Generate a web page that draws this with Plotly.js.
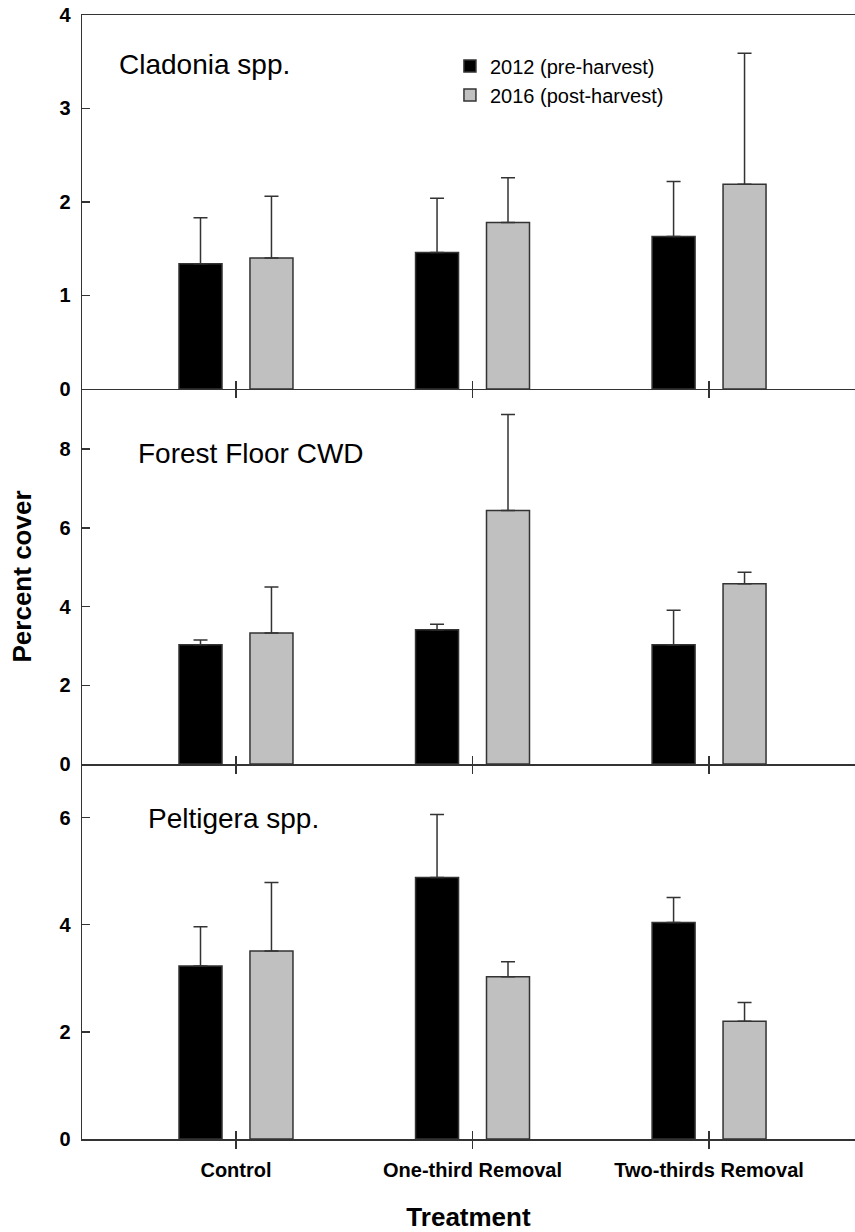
<!DOCTYPE html>
<html>
<head>
<meta charset="utf-8">
<script src="https://cdn.plot.ly/plotly-3.0.1.min.js"></script>
<style>html,body{margin:0;padding:0;background:#fff;}</style>
</head>
<body>
<div id="chart" style="width:855px;height:1232px;"></div>
<script>
// ---- data ----
const treatments = ["Control", "One-third Removal", "Two-thirds Removal"];
const seriesNames = ["2012 (pre-harvest)", "2016 (post-harvest)"];

const cladonia2012 = [1.34, 1.46, 1.63];
const cladonia2012Err = [0.49, 0.58, 0.59];
const cladonia2016 = [1.40, 1.78, 2.19];
const cladonia2016Err = [0.66, 0.48, 1.40];

const cwd2012 = [3.03, 3.41, 3.03];
const cwd2012Err = [0.12, 0.14, 0.88];
const cwd2016 = [3.33, 6.44, 4.58];
const cwd2016Err = [1.17, 2.44, 0.29];

const peltigera2012 = [3.23, 4.88, 4.04];
const peltigera2012Err = [0.73, 1.18, 0.47];
const peltigera2016 = [3.51, 3.03, 2.20];
const peltigera2016Err = [1.28, 0.28, 0.35];

const panelLabels = ["Cladonia spp.", "Forest Floor CWD", "Peltigera spp."];

// ---- styling ----
const AX = "#333333";
const FONT = "Liberation Sans, Arial, sans-serif";
const colors = ["#000000", "#c0c0c0"];
const xr = [-0.651, 2.617];

function barTrace(vals, errs, idx, xa, ya, showleg) {
  return {
    type: "bar",
    x: treatments,
    y: vals,
    name: seriesNames[idx],
    xaxis: xa, yaxis: ya,
    showlegend: showleg,
    marker: {color: colors[idx], line: {color: AX, width: 1.5}},
    error_y: {type: "data", symmetric: false, array: errs,
              arrayminus: errs.map(() => 0),
              color: AX, thickness: 1.5, width: 7},
    hoverinfo: "x+y"
  };
}

// helper traces (no data) so the overlay tick axes are drawn
function helper(xa, ya) {
  return {type: "scatter", mode: "none", x: [], y: [], xaxis: xa, yaxis: ya,
          showlegend: false, hoverinfo: "skip"};
}

const data = [
  barTrace(cladonia2012, cladonia2012Err, 0, "x", "y", true),
  barTrace(cladonia2016, cladonia2016Err, 1, "x", "y", true),
  barTrace(cwd2012, cwd2012Err, 0, "x2", "y2", false),
  barTrace(cwd2016, cwd2016Err, 1, "x2", "y2", false),
  barTrace(peltigera2012, peltigera2012Err, 0, "x3", "y3", false),
  barTrace(peltigera2016, peltigera2016Err, 1, "x3", "y3", false),
  helper("x4", "y"), helper("x5", "y2"), helper("x6", "y3")
];

function xAxis(anchor, opts) {
  return Object.assign({
    anchor: anchor, domain: [0, 1], type: "category",
    range: xr, showgrid: false, zeroline: false,
    showline: true, linecolor: AX, linewidth: 1.5,
    ticks: "outside", ticklen: 8, tickwidth: 1.5, tickcolor: AX,
    showticklabels: false, fixedrange: true
  }, opts || {});
}
function xInner(over, anchor) {
  return {
    overlaying: over, anchor: anchor, type: "linear", range: xr,
    tickmode: "array", tickvals: [0, 1, 2], showticklabels: false,
    ticks: "inside", ticklen: 8, tickwidth: 1.5, tickcolor: AX,
    showline: false, showgrid: false, zeroline: false, fixedrange: true
  };
}
function yAxis(domain, range, dtick, opts) {
  return Object.assign({
    anchor: "x", domain: domain, range: range, dtick: dtick, tick0: 0,
    showgrid: false, zeroline: false,
    showline: true, linecolor: AX, linewidth: 1.5,
    ticks: "inside", ticklen: 8, tickwidth: 1.5, tickcolor: AX,
    tickfont: {family: FONT, size: 20, color: "#000", weight: "bold"},
    ticklabelstandoff: 6,
    fixedrange: true
  }, opts || {});
}

const d1 = [0.6673, 1], d2 = [0.3336, 0.6673], d3 = [0, 0.3336];

const layout = {
  width: 855, height: 1232,
  margin: {l: 82, r: 0, t: 15, b: 93},
  paper_bgcolor: "#ffffff", plot_bgcolor: "rgba(0,0,0,0)",
  font: {family: FONT, color: "#000"},
  barmode: "group", bargap: 0.4, bargroupgap: 0.394,
  showlegend: true,
  legend: {
    x: 0.476, y: 0.972, xanchor: "left", yanchor: "top",
    bgcolor: "rgba(0,0,0,0)", borderwidth: 0,
    font: {family: FONT, size: 20, color: "#000"},
    tracegroupgap: 0, itemwidth: 30
  },
  xaxis: xAxis("y", {mirror: true}),
  xaxis2: xAxis("y2"),
  xaxis3: xAxis("y3", {
    showticklabels: true,
    tickfont: {family: FONT, size: 20, color: "#000", weight: "bold"},
    ticklabelstandoff: 4,
    title: {text: "Treatment", font: {family: FONT, size: 26, color: "#000", weight: "bold"}, standoff: 28}
  }),
  xaxis4: xInner("x", "y"),
  xaxis5: xInner("x2", "y2"),
  xaxis6: xInner("x3", "y3"),
  yaxis: yAxis(d1, [0, 4], 1, {anchor: "x"}),
  yaxis2: yAxis(d2, [0, 9.53], 2, {anchor: "x2",
    title: {text: "Percent cover", font: {family: FONT, size: 26, color: "#000", weight: "bold"}, standoff: 20}}),
  yaxis3: yAxis(d3, [0, 7], 2, {anchor: "x3"}),
  annotations: [
    {text: panelLabels[0], xref: "x domain", yref: "y domain", x: 0.045, y: 0.867,
     xanchor: "left", yanchor: "middle", showarrow: false,
     font: {family: FONT, size: 28, color: "#000"}},
    {text: panelLabels[1], xref: "x2 domain", yref: "y2 domain", x: 0.07, y: 0.829,
     xanchor: "left", yanchor: "middle", showarrow: false,
     font: {family: FONT, size: 28, color: "#000"}},
    {text: panelLabels[2], xref: "x3 domain", yref: "y3 domain", x: 0.083, y: 0.856,
     xanchor: "left", yanchor: "middle", showarrow: false,
     font: {family: FONT, size: 28, color: "#000"}}
  ]
};

Plotly.newPlot("chart", data, layout, {displayModeBar: false, staticPlot: true});
</script>
</body>
</html>
